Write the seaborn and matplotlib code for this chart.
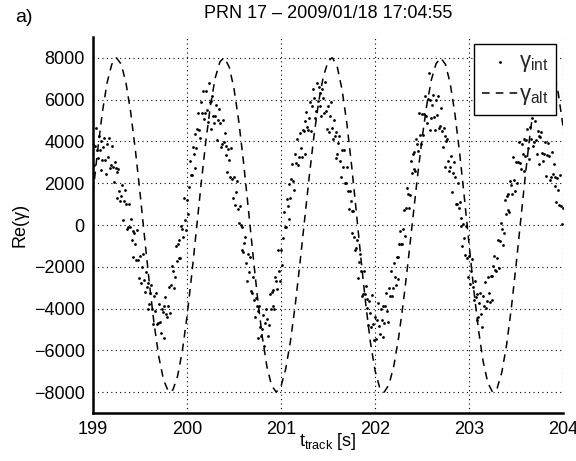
# PRN 17 - real part of gamma: interferometric estimate (dots) vs altimetric model (dashed)
import matplotlib
matplotlib.use("Agg")
import matplotlib.pyplot as plt
import numpy as np
import seaborn as sns

# gamma_int samples, one every 10 ms from 199.00 s to 204.00 s
t_int = np.round(np.arange(19900, 20401) / 100.0, 2)
gamma_int = [
    3900, 2850, 3800, 4650, 3600, 3200, 4250, 3600, 2650, 4000,
    3100, 3740, 4180, 3120, 2460, 3900, 3240, 4180, 2720, 2860,
    3800, 2780, 2060, 3040, 2720, 1300, 2540, 2680, 1620, 1160,
    1400, 1920, 240, 1160, 1680, 1000, -200, -100, 1000, -100,
    300, -740, -280, -1520, -360, -900, -1660, -220, -1680, -2540,
    -1500, -2760, -2020, -1380, -2640, -3200, -2240, -2980, -4020, -2760,
    -3800, -3240, -2880, -4020, -4760, -3400, -4120, -3240, -4760, -4680,
    -3800, -4640, -5180, -4020, -4160, -5400, -3880, -3460, -4240, -4420,
    -3900, -2960, -4220, -2880, -1940, -2200, -3000, -2500, -1000, -1700,
    -900, -1560, -720, -1580, -40, -200, -560, 1280, 220, -240,
    1200, 520, 1840, 3060, 2380, 2400, 3740, 3380, 2720, 4360,
    3700, 4620, 5340, 4560, 4180, 5900, 5360, 6420, 5080, 5340,
    6400, 5520, 4940, 6800, 5880, 4600, 5940, 6180, 5220, 4860,
    5200, 5740, 4080, 5020, 5560, 4900, 3740, 3880, 5020, 3960,
    4400, 3340, 3780, 2520, 3660, 3100, 2300, 3700, 2200, 1300,
    2300, 940, 1580, 2120, 760, 100, 900, 0, -1200, -100,
    -1300, -840, -580, -1820, -2660, -1400, -2260, -1520, -3180, -3240,
    -2500, -3600, -4400, -3500, -3900, -5400, -4100, -3900, -4900, -5300,
    -5000, -4300, -5800, -4700, -4000, -4500, -5300, -4800, -3300, -4000,
    -3200, -3900, -3100, -4000, -2500, -2700, -3040, -1180, -2220, -2660,
    -1200, -1900, -600, 600, -100, -100, 1260, 920, 280, 1940,
    1300, 2200, 2900, 2100, 1700, 3400, 2960, 4120, 2880, 3240,
    4400, 3680, 3260, 4540, 4520, 3400, 4960, 5420, 4680, 4540,
    5100, 5900, 4500, 5700, 6500, 6100, 5140, 5480, 6820, 5960,
    6600, 5700, 6300, 5200, 6500, 6100, 5380, 6860, 5440, 4620,
    5700, 4460, 5220, 5880, 4640, 4100, 5040, 4280, 3220, 4460,
    3400, 3920, 4240, 3060, 2280, 3600, 2800, 3600, 2000, 2000,
    2800, 1640, 780, 1620, 1160, -400, 680, 660, -560, -1180,
    -1100, -720, -2540, -1760, -1380, -2200, -3400, -3300, -2200, -3300,
    -2900, -3960, -3520, -4780, -3640, -4200, -4880, -3360, -4740, -5520,
    -4400, -5480, -4560, -3740, -4820, -5200, -4020, -4540, -5360, -3880,
    -4700, -3880, -3260, -4140, -4620, -3000, -3400, -2200, -3400, -3000,
    -1800, -2480, -2860, -1540, -1520, -2600, -900, -300, -900, -900,
    -200, 740, -520, 820, 1760, 1500, 820, 1440, 3060, 2480,
    3400, 2700, 3500, 2600, 4100, 3900, 3540, 5380, 4320, 3860,
    5300, 4300, 5300, 6200, 5200, 4900, 6020, 7300, 4560, 5980,
    5100, 5760, 6220, 5180, 4540, 6000, 5280, 6160, 4640, 4720,
    5600, 4520, 3740, 4660, 4280, 2800, 4020, 4140, 3060, 2580,
    2800, 3300, 1600, 2500, 3000, 2300, 1000, 1000, 2000, 800,
    1100, -40, 320, -1020, 40, -600, -1420, -40, -1560, -2480,
    -1500, -2840, -2180, -1620, -2960, -3600, -2680, -3460, -4540, -3320,
    -4400, -3720, -3240, -4260, -4880, -3400, -3860, -2720, -3980, -3640,
    -2500, -3240, -3680, -2420, -2460, -3600, -1980, -1460, -2140, -2220,
    -1600, -720, -2040, -760, 120, -200, -940, -380, 1180, 540,
    1400, 700, 1500, 600, 2100, 1900, 1480, 3260, 2140, 1620,
    3000, 2020, 3040, 3960, 2980, 2700, 3900, 3400, 2600, 4100,
    3300, 4060, 4620, 3680, 3140, 4700, 4120, 5140, 3760, 3980,
    5000, 4060, 3420, 4480, 4240, 2900, 4220, 4440, 3460, 3080,
    3400, 3980, 2360, 3340, 3920, 3300, 2160, 2320, 3480, 2440,
    2900, 1860, 2320, 1080, 2240, 1700, 940, 2380, 920, 60,
    800,
]

# gamma_alt model curve
t_alt = [
    199.00, 199.05, 199.10, 199.15, 199.20, 199.25, 199.30, 199.35, 199.40, 199.45,
    199.50, 199.55, 199.60, 199.65, 199.70, 199.75, 199.80, 199.82, 199.85, 199.90,
    199.95, 200.00, 200.05, 200.10, 200.15, 200.20, 200.25, 200.30, 200.35, 200.39,
    200.40, 200.45, 200.50, 200.55, 200.60, 200.65, 200.70, 200.75, 200.80, 200.85,
    200.90, 200.95, 201.00, 201.05, 201.10, 201.15, 201.20, 201.25, 201.30, 201.35,
    201.40, 201.45, 201.50, 201.54, 201.55, 201.60, 201.65, 201.70, 201.75, 201.80,
    201.85, 201.90, 201.95, 202.00, 202.05, 202.09, 202.10, 202.15, 202.20, 202.25,
    202.30, 202.35, 202.40, 202.45, 202.50, 202.55, 202.60, 202.65, 202.70, 202.75,
    202.80, 202.85, 202.90, 202.95, 203.00, 203.05, 203.10, 203.15, 203.20, 203.25,
    203.26, 203.30, 203.35, 203.40, 203.45, 203.50, 203.55, 203.60, 203.65, 203.70,
    203.75, 203.80, 203.83, 203.85, 203.90, 203.95, 204.00,
]
gamma_alt = [
    1540, 3610, 5420, 6820, 7700, 8000, 7700, 6820, 5420, 3610,
    1540, -660, -2800, -4740, -6310, -7410, -7950, -8000, -7890, -7230,
    -6030, -4380, -2390, -220, 1960, 4000, 5740, 7040, 7810, 8000,
    7990, 7550, 6520, 4990, 3060, 890, -1340, -3470, -5330, -6780,
    -7690, -8000, -7720, -6890, -5580, -3880, -1900, 210, 2310, 4240,
    5880, 7100, 7820, 8000, 7990, 7540, 6470, 4880, 2900, 680,
    -1590, -3730, -5580, -6960, -7790, -8000, -7990, -7620, -6750, -5430,
    -3760, -1840, 210, 2230, 4120, 5720, 6960, 7730, 8000, 7690,
    6780, 5330, 3470, 1340, -890, -3060, -4990, -6520, -7550, -7990,
    -8000, -7810, -7040, -5740, -4000, -1960, 220, 2390, 4380, 6030,
    7230, 7890, 8000, 7950, 7410, 6310, 4740,
]

x_ticks = [199, 200, 201, 202, 203, 204]
y_ticks = [-8000, -6000, -4000, -2000, 0, 2000, 4000, 6000, 8000]

sns.set_theme(style="white")
plt.rcParams["font.family"] = ["Liberation Sans", "DejaVu Sans"]
plt.rcParams["mathtext.fontset"] = "custom"
plt.rcParams["mathtext.rm"] = "Liberation Sans"
plt.rcParams["mathtext.it"] = "Liberation Sans:italic"

fig = plt.figure(figsize=(5.76, 4.61), dpi=100)
ax = fig.add_axes([0.1615, 0.1041, 0.8159, 0.8156])

sns.scatterplot(x=t_int, y=gamma_int, ax=ax, color="black", s=4, marker="o",
                linewidth=0, label="γ$_{\\mathrm{int}}$", zorder=3)
sns.lineplot(x=t_alt, y=gamma_alt, ax=ax, color="black", linewidth=1.1,
             linestyle=(0, (5, 4)), label="γ$_{\\mathrm{alt}}$", zorder=2)

ax.set_xlim(199, 204)
ax.set_ylim(-9000, 9000)
ax.set_xticks(x_ticks)
ax.set_yticks(y_ticks)
ax.tick_params(axis="both", direction="in", length=4, width=1, labelsize=13,
               color="black", labelcolor="black", pad=6)

# matlab-style dotted grid
ax.grid(True, color="black", linestyle=(0, (1, 3)), linewidth=0.8)

for side in ["top", "right"]:
    ax.spines[side].set_visible(False)
for side in ["left", "bottom"]:
    ax.spines[side].set_color("black")
    ax.spines[side].set_linewidth(1.8)

ax.set_ylabel("Re(γ)", fontsize=13, color="black", labelpad=4)
ax.set_xlabel("t$_{\\mathrm{track}}$ [s]", fontsize=13, color="black", labelpad=-5)
ax.set_title("PRN 17 – 2009/01/18 17:04:55", fontsize=13, color="black", pad=14)
fig.text(0.026, 0.952, "a)", fontsize=14, color="black")

leg = ax.legend(loc="upper right", fontsize=16, frameon=True, fancybox=False,
                edgecolor="black", framealpha=1, borderaxespad=0.3,
                handlelength=1.6, handletextpad=0.05, labelspacing=0.45,
                borderpad=0.35, markerscale=1.0)
leg.get_frame().set_linewidth(1.0)

fig.savefig("out.png", dpi=100)
